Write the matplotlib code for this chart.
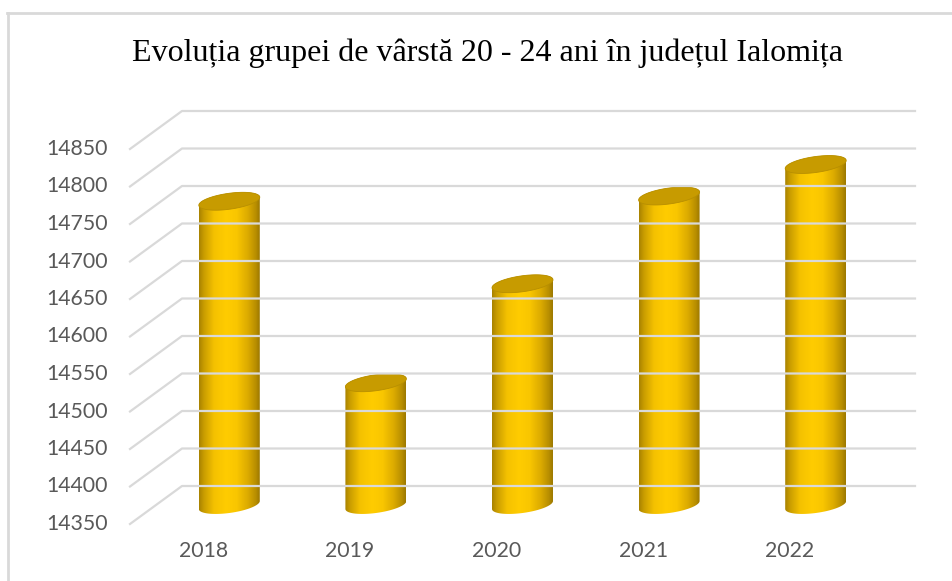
import numpy as np
import matplotlib
matplotlib.use("Agg")
import matplotlib.pyplot as plt
from matplotlib.transforms import ScaledTranslation
from matplotlib.path import Path
from matplotlib.patches import PathPatch
from matplotlib.colors import LinearSegmentedColormap
from matplotlib.lines import Line2D

# ---- data ----
years = ["2018", "2019", "2020", "2021", "2022"]
values = [14755, 14513, 14645, 14762, 14804]
y_ticks = [14350, 14400, 14450, 14500, 14550, 14600, 14650, 14700, 14750, 14800, 14850]
title = "Evoluția grupei de vârstă 20 - 24 ani în județul Ialomița"

W, H, DPI = 952, 581, 100
fig = plt.figure(figsize=(W / DPI, H / DPI), dpi=DPI)
fig.patch.set_facecolor("white")

# front plane of the 3D box (pixels)
left_px, right_px, top_px, bot_px = 130, 863, 149, 524
ax = fig.add_axes([left_px / W, (H - bot_px) / H,
                   (right_px - left_px) / W, (bot_px - top_px) / H])
ax.set_xlim(-0.5, 4.5)
ax.set_ylim(y_ticks[0], y_ticks[-1])
ax.axis("off")

depth_dx, depth_dy = 52, 38  # pixels to the back wall
back = ax.transData + ScaledTranslation(depth_dx / DPI, depth_dy / DPI, fig.dpi_scale_trans)
mid = ax.transData + ScaledTranslation(depth_dx / 2 / DPI, depth_dy / 2 / DPI, fig.dpi_scale_trans)

grid_col = "#d9d9d9"
# gridlines: floor/side diagonal + back wall horizontal
for v in y_ticks:
    p0 = ax.transData.transform((-0.5, v))
    p1 = back.transform((-0.5, v))
    p2 = back.transform((4.5, v))
    fig.add_artist(Line2D([p0[0] / W, p1[0] / W, p2[0] / W],
                          [p0[1] / H, p1[1] / H, p2[1] / H],
                          color=grid_col, lw=1.6, transform=fig.transFigure, zorder=1))

# tick labels
label_col = "#595959"
for v in y_ticks:
    ax.text(-0.5, v, str(v), transform=ax.transData + ScaledTranslation(-22 / DPI, 0, fig.dpi_scale_trans),
            ha="right", va="center", fontsize=15.3, color=label_col, family="Lato", clip_on=False)
for i, yr in enumerate(years):
    ax.text(i, y_ticks[0], yr, transform=ax.transData + ScaledTranslation(0, -27 / DPI, fig.dpi_scale_trans),
            ha="center", va="center", fontsize=15.3, color=label_col, family="Lato", clip_on=False)

# cylinders
cmap = LinearSegmentedColormap.from_list("gold", [
    (0.00, "#a88200"), (0.08, "#c99d00"), (0.25, "#f5c200"), (0.45, "#ffcc00"),
    (0.62, "#f9c600"), (0.80, "#dcab00"), (0.93, "#b98f00"), (1.00, "#9c7800")])
grad = np.linspace(0, 1, 256).reshape(1, -1)

bw = 0.416
units_per_px = (y_ticks[-1] - y_ticks[0]) / (bot_px - top_px)
eh = 8 * units_per_px           # ellipse half-height (data units)
tilt = 4 * units_per_px         # right side higher by this at half width
base = y_ticks[0]
th = np.linspace(0, np.pi, 60)

for i, v in enumerate(values):
    xc = i
    cx = np.cos(th)
    # bottom half ellipse from right to left (lower arc)
    bx = xc + bw / 2 * cx
    by = base - eh * np.sin(th) + tilt * cx
    # top upper arc from left to right
    tx = xc - bw / 2 * cx
    ty = v + eh * np.sin(th) - tilt * cx
    vx = np.concatenate([bx, tx, [bx[0]]])
    vy = np.concatenate([by, ty, [by[0]]])
    path = Path(np.column_stack([vx, vy]))
    clip = PathPatch(path, transform=mid, facecolor="none", edgecolor="none")
    ax.add_patch(clip)
    im = ax.imshow(grad, cmap=cmap, aspect="auto", interpolation="bilinear",
                   extent=[xc - bw / 2, xc + bw / 2, base - eh - tilt - 5, v + eh + tilt + 5],
                   transform=mid, zorder=3)
    im.set_clip_path(clip)
    # top ellipse
    t2 = np.linspace(0, 2 * np.pi, 120)
    ex = xc + bw / 2 * np.cos(t2)
    ey = v + eh * np.sin(t2) + tilt * np.cos(t2)
    ax.add_patch(PathPatch(Path(np.column_stack([ex, ey])), transform=mid,
                           facecolor="#c79b00", edgecolor="#b88f00", lw=0.6, zorder=4, clip_on=False))

ax.set_xlim(-0.5, 4.5)
ax.set_ylim(y_ticks[0], y_ticks[-1])

# title
fig.text(488 / W, 1 - 53 / H, title, ha="center", va="center",
         fontsize=23, family="Liberation Serif", color="#000000")

# outer frame (top and left edges visible)
fig.add_artist(Line2D([7 / W, 1.0], [1 - 13 / H, 1 - 13 / H], color="#d9d9d9", lw=2, transform=fig.transFigure))
fig.add_artist(Line2D([8 / W, 8 / W], [0, 1 - 13 / H], color="#d9d9d9", lw=2, transform=fig.transFigure))

fig.savefig("out.png", dpi=DPI)
